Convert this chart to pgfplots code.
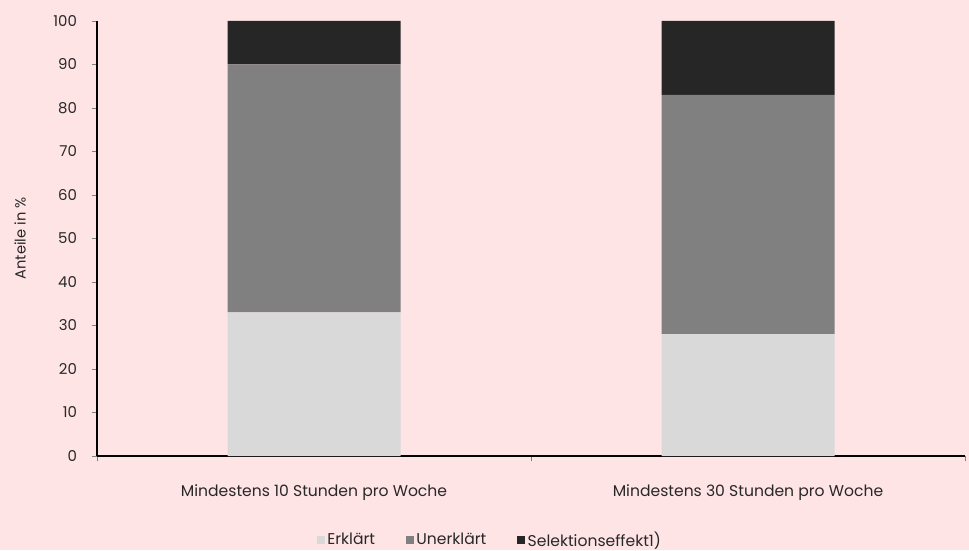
\documentclass[border=0pt]{standalone}
\usepackage{fontspec}
\setmainfont{Poppins}
\usepackage{pgfplots}
\pgfplotsset{compat=1.18}

\definecolor{bgpink}{RGB}{255,228,230}
\definecolor{erkl}{RGB}{217,217,217}
\definecolor{unerkl}{RGB}{128,128,128}
\definecolor{selek}{RGB}{38,38,38}
\definecolor{txt}{RGB}{40,40,40}

\begin{document}
\begin{tikzpicture}
\useasboundingbox (0,0) rectangle (726.75pt,412.5pt);
\fill[bgpink] (0,0) rectangle (726.75pt,412.5pt);
\begin{axis}[
  at={(72.75pt,70.5pt)}, anchor=south west,
  scale only axis,
  width=651pt, height=326.25pt,
  ybar stacked,
  bar width=129.75pt,
  xmin=-0.5, xmax=1.5,
  ymin=0, ymax=100,
  axis lines*=left,
  axis line style={black, line width=0.8pt},
  xtick={0,1},
  xticklabels={Mindestens 10 Stunden pro Woche, Mindestens 30 Stunden pro Woche},
  major x tick style={draw=none},
  minor xtick={-0.5,0.5,1.5},
  minor tick length=4pt,
  minor x tick style={gray, line width=0.6pt},
  ytick={0,10,...,100},
  tick align=outside,
  major tick length=4pt,
  y tick style={gray, line width=0.6pt},
  xticklabel style={yshift=-14pt, font=\fontsize{11.7}{13}\selectfont, text=txt},
  yticklabel style={font=\fontsize{11.2}{13}\selectfont, text=txt, xshift=-7.5pt},
  /pgf/number format/assume math mode=true,
  ylabel={Anteile in \%},
  ylabel style={at={(axis description cs:-0.0887,0.5)}, anchor=center,
    font=\fontsize{11}{13}\selectfont, text=txt},
  legend columns=3,
  legend style={at={(0.453,-0.193)}, anchor=center, draw=none, fill=none,
    font=\fontsize{11.7}{13}\selectfont, text=txt,
    /tikz/every even column/.append style={column sep=21pt}},
  legend image code/.code={\fill[#1,draw=none] (0pt,-3pt) rectangle (6pt,3pt);},
  clip=false,
]
\addplot[fill=erkl, draw=none] coordinates {(0,33) (1,28)};
\addplot[fill=unerkl, draw=none] coordinates {(0,57) (1,55)};
\addplot[fill=selek, draw=none] coordinates {(0,10) (1,17)};
\legend{Erklärt, Unerklärt, Selektionseffekt1)}
\end{axis}
\end{tikzpicture}
\end{document}
